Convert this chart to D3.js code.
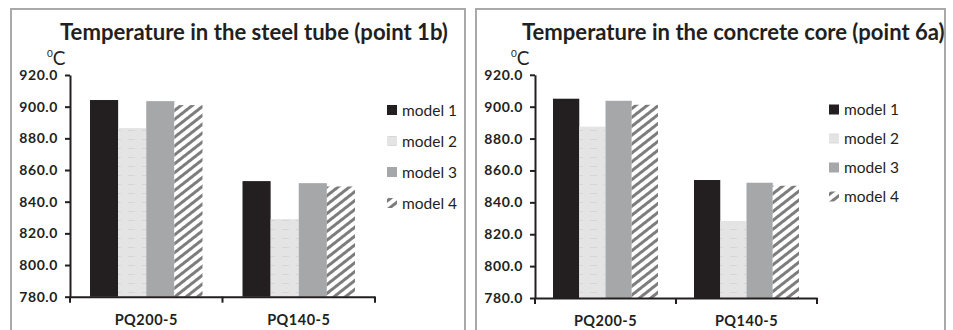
<!DOCTYPE html>
<html>
<head>
<meta charset="utf-8">
<script src="https://cdn.jsdelivr.net/npm/d3@7"></script>
<style>
  body { margin: 0; background: #fff; }
  svg { display: block; font-family: Lato, "Open Sans", sans-serif; }
</style>
</head>
<body>
<svg></svg>
<script>
var categories = ['PQ200-5', 'PQ140-5']
var models = ['model 1', 'model 2', 'model 3', 'model 4']
var yTicks = [780, 800, 820, 840, 860, 880, 900, 920]

// values per model, one per category
var steelTube = [
	[904.2, 853.0],
	[886.5, 829.0],
	[903.5, 851.7],
	[901.0, 849.6]
]
var concreteCore = [
	[905.0, 854.0],
	[887.5, 828.3],
	[903.7, 852.3],
	[901.2, 850.4]
]

var width = 953
var height = 330

var svg = d3.select('svg').attr('width', width).attr('height', height)

var defs = svg.append('defs')

// model 4: white diagonal strokes on dark grey
var hatch = defs.append('pattern')
	.attr('id', 'hatch')
	.attr('patternUnits', 'userSpaceOnUse')
	.attr('width', 7).attr('height', 7)
	.attr('patternTransform', 'rotate(-38)')
hatch.append('rect').attr('width', 7).attr('height', 7).attr('fill', '#7d7d7d')
hatch.append('rect').attr('x', 0).attr('y', 0).attr('width', 7).attr('height', 4).attr('fill', '#fff')

// model 2: pale grey with faint streaks
var streak = defs.append('pattern')
	.attr('id', 'streak')
	.attr('patternUnits', 'userSpaceOnUse')
	.attr('width', 14).attr('height', 9)
streak.append('rect').attr('width', 14).attr('height', 9).attr('fill', '#e4e4e5')
streak.append('rect').attr('x', 2).attr('y', 4).attr('width', 7).attr('height', 1).attr('fill', '#d6d6d7')

var fills = ['#231f20', 'url(#streak)', '#a6a7a9', 'url(#hatch)']

var panels = [
	{title: 'Temperature in the steel tube (point 1b)', data: steelTube,
		box: [11, 9, 465], titleX: 60, titleW: 388,
		x0: 70, x1: 375, y0: 296.7, y1: 75, pad: 20, unitX: 47,
		legX: 387, legY: 110, legStep: 31},
	{title: 'Temperature in the concrete core (point 6a)', data: concreteCore,
		box: [476, 9, 945], titleX: 522, titleW: 423,
		x0: 535, x1: 817, y0: 298, y1: 74.8, pad: 18, unitX: 511,
		legX: 829, legY: 109.5, legStep: 29}
]

panels.forEach(function(p) {
	var g = svg.append('g')

	// frame
	g.append('rect')
		.attr('x', p.box[0]).attr('y', p.box[1])
		.attr('width', p.box[2] - p.box[0]).attr('height', height)
		.attr('fill', 'none').attr('stroke', '#a9a9a9').attr('stroke-width', 2)

	var title = g.append('text')
		.attr('x', p.titleX).attr('y', 40)
		.attr('font-size', 21).attr('font-weight', 'bold').attr('fill', '#231f20')
		.text(p.title)
	var tw = title.node().getComputedTextLength()
	title.attr('font-size', 21 * p.titleW / tw)

	var x = d3.scaleBand().domain(categories).range([p.x0, p.x1])
	var inner = d3.scaleBand().domain(models)
		.range([p.pad, x.bandwidth() - p.pad])
	var y = d3.scaleLinear().domain([780, 920]).range([p.y0, p.y1])

	// bars
	models.forEach(function(m, i) {
		g.append('g').selectAll('rect')
			.data(p.data[i])
			.enter().append('rect')
			.attr('x', function(d, j) {return x(categories[j]) + inner(m)})
			.attr('width', inner.bandwidth())
			.attr('y', function(d) {return y(d)})
			.attr('height', function(d) {return y(780) - y(d)})
			.attr('fill', fills[i])
	})

	// y axis
	var yAxis = g.append('g')
		.attr('transform', 'translate(' + p.x0 + ',0)')
		.call(d3.axisLeft(y).tickValues(yTicks).tickFormat(d3.format('.1f'))
			.tickSize(5).tickSizeOuter(0).tickPadding(7))
	yAxis.select('.domain').attr('stroke', '#231f20').attr('stroke-width', 2)
	yAxis.selectAll('line').attr('stroke', '#231f20').attr('stroke-width', 2)
	yAxis.selectAll('text').attr('font-size', 14).attr('font-weight', 'bold')
		.attr('letter-spacing', 0.6)
		.attr('fill', '#231f20').attr('font-family', 'Lato, sans-serif')

	// x axis
	var xAxis = g.append('g')
		.attr('transform', 'translate(0,' + p.y0 + ')')
		.call(d3.axisBottom(x).tickSize(0).tickPadding(18))
	xAxis.select('.domain').attr('stroke', '#231f20').attr('stroke-width', 2)
	xAxis.selectAll('text').attr('font-size', 14.5).attr('font-weight', 'bold')
		.attr('letter-spacing', 0.5)
		.attr('fill', '#231f20').attr('font-family', 'Lato, sans-serif')
	// category separators
	g.append('g').selectAll('line')
		.data(categories.concat(['end']))
		.enter().append('line')
		.attr('x1', function(d) {return d === 'end' ? p.x1 : x(d)})
		.attr('x2', function(d) {return d === 'end' ? p.x1 : x(d)})
		.attr('y1', p.y0).attr('y2', p.y0 + 6)
		.attr('stroke', '#231f20').attr('stroke-width', 2)

	// unit label
	var unit = g.append('text').attr('x', p.unitX).attr('y', 65)
		.attr('fill', '#231f20').attr('font-size', 19)
	unit.append('tspan').attr('font-size', 10).attr('dy', -8).text('0')
	unit.append('tspan').attr('dy', 8).text('C')

	// legend
	var leg = g.append('g').selectAll('g')
		.data(models)
		.enter().append('g')
		.attr('transform', function(d, i) {return 'translate(' + p.legX + ',' + (p.legY + i * p.legStep) + ')'})
	leg.append('rect')
		.attr('x', 0).attr('y', -5).attr('width', 10).attr('height', 10)
		.attr('fill', function(d, i) {return fills[i]})
	leg.append('text')
		.attr('x', 15).attr('y', 5.5)
		.attr('font-size', 15.5).attr('fill', '#231f20')
		.text(function(d) {return d})
})
</script>
</body>
</html>
